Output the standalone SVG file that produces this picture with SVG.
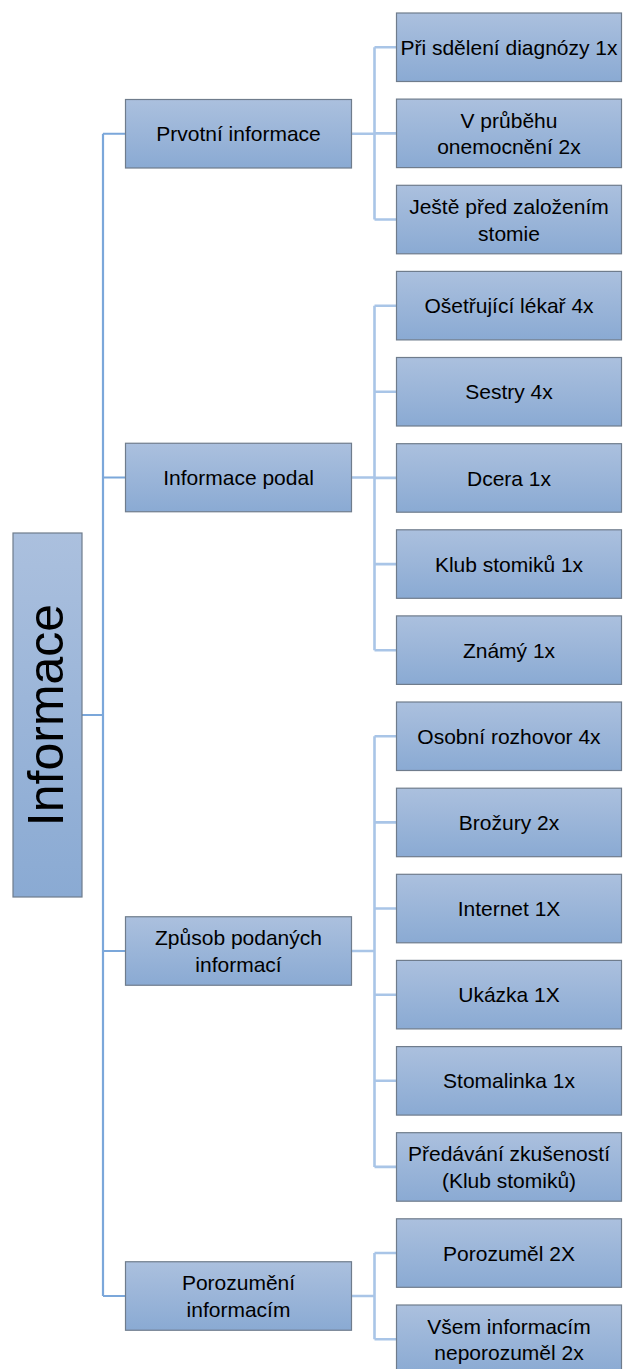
<svg xmlns="http://www.w3.org/2000/svg" width="625" height="1369" viewBox="0 0 625 1369">
<defs>
<linearGradient id="g" x1="0" y1="0" x2="0" y2="1">
<stop offset="0" stop-color="#abc0de"/>
<stop offset="1" stop-color="#8aaad3"/>
</linearGradient>
<style>
.box{fill:url(#g);stroke:#6f7c8c;stroke-width:1.2}
.t{font-family:"Liberation Sans",Arial,sans-serif;font-size:21px;fill:#000;text-anchor:middle}
.root{font-family:"Liberation Sans",Arial,sans-serif;font-size:50px;fill:#000;text-anchor:middle}
.c1{fill:none;stroke:#7ba7da;stroke-width:2.2}
.c2{fill:none;stroke:#a9c5e7;stroke-width:2.6}
</style>
</defs>
<rect width="625" height="1369" fill="#ffffff"/>
<g id="connectors">
<path class="c1" d="M82 715H103M103 133.75V1296M103 133.75H125.5M103 477.5H125.5M103 951H125.5M103 1296H125.5"/>
<path class="c2" d="M351.5 133.75H374.5M374.5 47.25V219.5M374.5 47.25H396.5M374.5 133.4H396.5M374.5 219.5H396.5"/>
<path class="c2" d="M351.5 477.5H374.5M374.5 305.7V650.2M374.5 305.7H396.5M374.5 391.8H396.5M374.5 477.9H396.5M374.5 564.1H396.5M374.5 650.2H396.5"/>
<path class="c2" d="M351.5 951H374.5M374.5 736.3V1166.9M374.5 736.3H396.5M374.5 822.4H396.5M374.5 908.5H396.5M374.5 994.7H396.5M374.5 1080.8H396.5M374.5 1166.9H396.5"/>
<path class="c2" d="M351.5 1296H374.5M374.5 1253V1339.3M374.5 1253H396.5M374.5 1339.3H396.5"/>
</g>
<g id="root">
<rect class="box" x="13" y="533" width="69" height="364"/>
<text class="root" x="63" y="715" transform="rotate(-90 63 715)">Informace</text>
</g>
<g id="n-prvotni">
<rect class="box" x="125.5" y="99.5" width="226" height="68.5"/>
<text class="t" x="238.5" y="141.3">Prvotní informace</text>
</g>
<g id="n-podal">
<rect class="box" x="125.5" y="443.25" width="226" height="68.5"/>
<text class="t" x="238.5" y="485">Informace podal</text>
</g>
<g id="n-zpusob">
<rect class="box" x="125.5" y="916.75" width="226" height="68.5"/>
<text class="t" x="238.5" y="945.2">Způsob podaných</text>
<text class="t" x="238.5" y="971.9">informací</text>
</g>
<g id="n-porozumeni">
<rect class="box" x="125.5" y="1261.75" width="226" height="68.5"/>
<text class="t" x="238.5" y="1290.2">Porozumění</text>
<text class="t" x="238.5" y="1316.9">informacím</text>
</g>
<g id="l1">
<rect class="box" x="396.5" y="13" width="225" height="68.5"/>
<text class="t" x="509" y="54.8">Při sdělení diagnózy 1x</text>
</g>
<g id="l2">
<rect class="box" x="396.5" y="99.1" width="225" height="68.5"/>
<text class="t" x="509" y="127.6">V průběhu</text>
<text class="t" x="509" y="154.3">onemocnění 2x</text>
</g>
<g id="l3">
<rect class="box" x="396.5" y="185.3" width="225" height="68.5"/>
<text class="t" x="509" y="213.8">Ještě před založením</text>
<text class="t" x="509" y="240.5">stomie</text>
</g>
<g id="l4">
<rect class="box" x="396.5" y="271.4" width="225" height="68.5"/>
<text class="t" x="509" y="313.2">Ošetřující lékař 4x</text>
</g>
<g id="l5">
<rect class="box" x="396.5" y="357.5" width="225" height="68.5"/>
<text class="t" x="509" y="399.3">Sestry 4x</text>
</g>
<g id="l6">
<rect class="box" x="396.5" y="443.7" width="225" height="68.5"/>
<text class="t" x="509" y="485.5">Dcera 1x</text>
</g>
<g id="l7">
<rect class="box" x="396.5" y="529.8" width="225" height="68.5"/>
<text class="t" x="509" y="571.6">Klub stomiků 1x</text>
</g>
<g id="l8">
<rect class="box" x="396.5" y="615.9" width="225" height="68.5"/>
<text class="t" x="509" y="657.7">Známý 1x</text>
</g>
<g id="l9">
<rect class="box" x="396.5" y="702" width="225" height="68.5"/>
<text class="t" x="509" y="743.8">Osobní rozhovor 4x</text>
</g>
<g id="l10">
<rect class="box" x="396.5" y="788.2" width="225" height="68.5"/>
<text class="t" x="509" y="830">Brožury 2x</text>
</g>
<g id="l11">
<rect class="box" x="396.5" y="874.3" width="225" height="68.5"/>
<text class="t" x="509" y="916.1">Internet 1X</text>
</g>
<g id="l12">
<rect class="box" x="396.5" y="960.4" width="225" height="68.5"/>
<text class="t" x="509" y="1002.2">Ukázka 1X</text>
</g>
<g id="l13">
<rect class="box" x="396.5" y="1046.6" width="225" height="68.5"/>
<text class="t" x="509" y="1088.4">Stomalinka 1x</text>
</g>
<g id="l14">
<rect class="box" x="396.5" y="1132.7" width="225" height="68.5"/>
<text class="t" x="509" y="1161.2">Předávání zkušeností</text>
<text class="t" x="509" y="1187.9">(Klub stomiků)</text>
</g>
<g id="l15">
<rect class="box" x="396.5" y="1218.8" width="225" height="68.5"/>
<text class="t" x="509" y="1260.6">Porozuměl 2X</text>
</g>
<g id="l16">
<rect class="box" x="396.5" y="1305" width="225" height="68.5"/>
<text class="t" x="509" y="1333.5">Všem informacím</text>
<text class="t" x="509" y="1360.2">neporozuměl 2x</text>
</g>
</svg>
